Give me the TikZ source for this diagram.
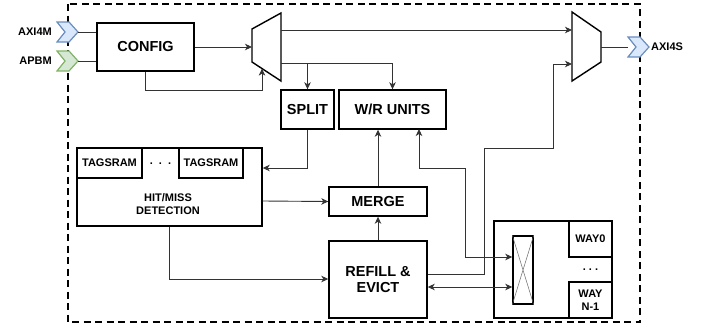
\documentclass[tikz,border=0pt]{standalone}
\usepackage{fontspec}
\setmainfont{Liberation Sans}
\usetikzlibrary{arrows.meta,calc}
\definecolor{bluestroke}{HTML}{6C8EBF}
\definecolor{bluefill}{HTML}{DAE8FC}
\definecolor{greenstroke}{HTML}{82B366}
\definecolor{greenfill}{HTML}{D5E8D4}
\begin{document}
\begin{tikzpicture}[x=1pt,y=-1pt,
  box/.style={draw=black,line width=1.4pt,fill=white,inner sep=0pt,font=\bfseries\fontsize{14.5}{16}\selectfont,align=center},
  smallbox/.style={draw=black,line width=1.4pt,fill=white,inner sep=0pt,font=\bfseries\fontsize{11}{13}\selectfont,align=center},
  lbl/.style={inner sep=0pt,font=\bfseries\fontsize{11}{13}\selectfont,align=center},
  conn/.style={draw=black!80,line width=0.9pt},
  arr/.style={conn,-{Stealth[length=7pt,width=6.5pt,inset=2pt]}},
  darr/.style={conn,{Stealth[length=7pt,width=6.5pt,inset=2pt]}-{Stealth[length=7pt,width=6.5pt,inset=2pt]}},
  muxshape/.style={draw=black,line width=1.4pt,fill=white,line join=miter},
  bluechev/.style={draw=bluestroke,fill=bluefill,line width=1.2pt,line join=miter},
  greenchev/.style={draw=greenstroke,fill=greenfill,line width=1.2pt,line join=miter},
]
\useasboundingbox (0,0) rectangle (704,330);
% outer dashed border
\draw[line width=1.4pt,dash pattern=on 7pt off 4.5pt] (68,4) rectangle (640,322);

% chevrons
\draw[bluechev] (57,22) -- (69,22) -- (78,32) -- (69,42) -- (57,42) -- (65,32) -- cycle;
\coordinate (axim) at (78,32);
\draw[greenchev] (57,51) -- (69,51) -- (78,61) -- (69,71) -- (57,71) -- (65,61) -- cycle;
\coordinate (apbm) at (78,61);
\draw[bluechev] (628,37) -- (640,37) -- (649,47) -- (640,57) -- (628,57) -- (636,47) -- cycle;
\coordinate (axis) at (628,47);
\node[lbl,anchor=east] (laxim) at (52,32) {AXI4M};
\node[lbl,anchor=east] (lapbm) at (52,61) {APBM};
\node[lbl,anchor=west] (laxis) at (651,47) {AXI4S};

% boxes
\node[box,minimum width=97pt,minimum height=48pt] (config) at (145.5,47) {CONFIG};
\node[box,minimum width=53pt,minimum height=39pt] (split) at (307.5,109.5) {SPLIT};
\node[box,minimum width=107pt,minimum height=39pt] (wr) at (392.5,109.5) {W/R UNITS};
\node[smallbox,minimum width=185pt,minimum height=78pt] (tags) at (169.5,187) {};
\node[smallbox,minimum width=65pt,minimum height=30pt] (ts1) at (109.5,163) {TAGSRAM};
\node[smallbox,minimum width=64pt,minimum height=30pt] (ts2) at (211,163) {TAGSRAM};
\node[lbl] (tdots) at (160.5,164) {.\ \ .\ \ .};
\node[lbl] (hitmiss) at (168,204) {HIT/MISS\\DETECTION};
\node[box,minimum width=98pt,minimum height=29pt] (merge) at (378,201.5) {MERGE};
\node[box,minimum width=98pt,minimum height=77pt] (refill) at (378,279.5) {REFILL \&\\EVICT};
\node[smallbox,minimum width=118pt,minimum height=97pt] (ways) at (553,269.5) {};
\node[smallbox,minimum width=43pt,minimum height=36pt] (way0) at (590.5,239) {WAY0};
\node[smallbox,minimum width=43pt,minimum height=36pt] (wayn) at (590.5,300) {WAY\\N-1};
\node[lbl] (wdots) at (590.5,270) {.\ .\ .};
\node[draw=black,line width=1.4pt,fill=white,minimum width=20pt,minimum height=68pt,inner sep=0pt] (xbar) at (523,270) {};
\draw[black!60,line width=0.5pt] (xbar.north west) -- (xbar.south east) (xbar.north east) -- (xbar.south west);

% muxes
\draw[muxshape] (252,29) -- (281,13) -- (281,81) -- (252,62) -- cycle;
\coordinate (m1in) at (252,47);
\coordinate (m1sel) at (262,68.6);
\coordinate (m1o1) at (281,30);
\coordinate (m1o2) at (281,63);
\draw[muxshape] (572,12) -- (601,32) -- (601,62) -- (572,81) -- cycle;
\coordinate (m2i1) at (572,30);
\coordinate (m2i2) at (572,64);
\coordinate (m2out) at (601,47);

% connectors
\draw[conn] (axim) -- (axim -| config.west);
\draw[conn] (apbm) -- (apbm -| config.west);
\draw[arr] (config.east) -- (m1in);
\draw[arr] (config.south) -- (145.5,90) -| (m1sel);
\draw[arr] (m1o1) -- (m2i1);
\draw[arr] (m1o2) -| (wr.north);
\draw[arr] (split.north |- m1o2) -- (split.north);
\draw[arr] (split.south) |- (tags.east |- 0,168);
\draw[arr] (tags.east |- 0,201) -- (merge.west);
\draw[arr] (merge.north) -- (merge.north |- wr.south);
\draw[arr] (tags.south -| 169,0) |- (refill.west |- 0,279);
\draw[arr] (refill.north) -- (merge.south);
\draw[arr] (refill.east |- 0,274) -- (484,274) -- (484,148) -- (553,148) |- (m2i2);
\draw[darr] (xbar.west |- 0,257) -- (465,257) -- (465,168) -- (419,168) -- (419,129);
\draw[darr] (refill.east |- 0,287) -- (xbar.west |- 0,287);
\draw[conn] (m2out) -- (axis);
\end{tikzpicture}
\end{document}
